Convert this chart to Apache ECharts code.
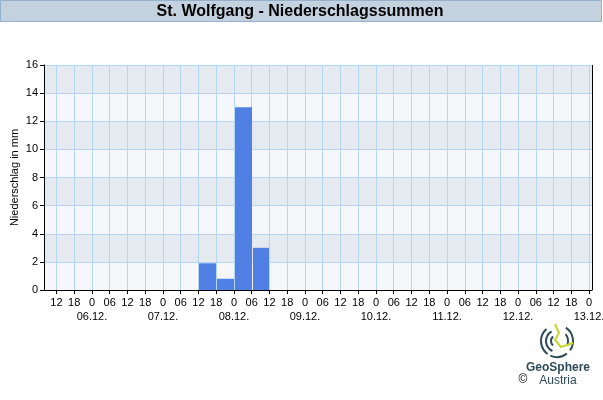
<!DOCTYPE html>
<html><head><meta charset="utf-8">
<script src="https://cdn.jsdelivr.net/npm/echarts@6/dist/echarts.min.js"></script>
<style>html,body{margin:0;padding:0;background:#fff}#c{width:603px;height:400px}</style>
</head><body><div id="c"></div>
<script>
// hours since 05.12. 00:00
const barStarts = [60, 66, 72, 78];
const barValues = [1.9, 0.8, 13.0, 3.0];
const hourTicks = [12,18,24,30,36,42,48,54,60,66,72,78,84,90,96,102,108,114,120,126,132,138,144,150,156,162,168,174,180,186,192];
const dayTicks = [24,48,72,96,120,144,168,192];
const dayLabels = ['06.12.','07.12.','08.12.','09.12.','10.12.','11.12.','12.12.','13.12.'];
const title = 'St. Wolfgang - Niederschlagssummen';
const yName = 'Niederschlag in mm';

const FONT = 'Liberation Sans, Arial, sans-serif';
const chart = echarts.init(document.getElementById('c'), null, {renderer:'canvas'});
const xMin = 7.8, xMax = 193;
function hourFmt(v){const h=((v%24)+24)%24; return h===0?'0':(h<10?'0'+h:''+h);}
const barData = barStarts.map((s,i)=>[s, s+6, barValues[i]]);
const GRIDC = '#b4d6f0';

chart.setOption({
  animation:false,
  textStyle:{fontFamily:FONT},
  graphic:[
    {type:'rect', shape:{x:0.5,y:0.5,width:601,height:21}, style:{fill:'#c4d2e0',stroke:'#93b1cc',lineWidth:1}},
    {type:'text', x:300, y:12, style:{text:title, font:'bold 16px '+FONT, fill:'#000', textAlign:'center', textVerticalAlign:'middle'}},
    {type:'line', z:100, shape:{x1:592.5, y1:65, x2:592.5, y2:290}, style:{stroke:'#000', lineWidth:1}},
    {type:'group', x:557, y:341, children:[
      {type:'arc', shape:{cx:0,cy:0,r:16,startAngle:2.2,endAngle:4.0}, style:{stroke:'#2f4b57',lineWidth:2,fill:null}},
      {type:'arc', shape:{cx:0,cy:0,r:11,startAngle:2.0,endAngle:4.2}, style:{stroke:'#2f4b57',lineWidth:2,fill:null}},
      {type:'arc', shape:{cx:0,cy:0,r:6,startAngle:2.3,endAngle:4.0}, style:{stroke:'#2f4b57',lineWidth:2,fill:null}},
      {type:'arc', shape:{cx:0,cy:0,r:16,startAngle:5.3,endAngle:6.9}, style:{stroke:'#2f4b57',lineWidth:2,fill:null}},
      {type:'arc', shape:{cx:0,cy:0,r:11,startAngle:5.6,endAngle:6.6}, style:{stroke:'#2f4b57',lineWidth:2,fill:null}},
      {type:'arc', shape:{cx:0,cy:0,r:16,startAngle:0.9,endAngle:2.0}, style:{stroke:'#2f4b57',lineWidth:2,fill:null}},
      {type:'polyline', shape:{points:[[-2,-17],[2,-8],[-2,-1],[4,6],[16,2]]}, style:{stroke:'#c5d62e',lineWidth:2,fill:null}}
    ]},
    {type:'text', x:558, y:368, style:{text:'GeoSphere', font:'bold 12px '+FONT, fill:'#2f4b57', textAlign:'center', textVerticalAlign:'middle'}},
    {type:'text', x:558, y:381, style:{text:'Austria', font:'12px '+FONT, fill:'#2f4b57', textAlign:'center', textVerticalAlign:'middle'}},
    {type:'text', x:523, y:380, style:{text:'©', font:'12px '+FONT, fill:'#000', textAlign:'center', textVerticalAlign:'middle'}}
  ],
  grid:{left:44, right:11, top:65, bottom:110, containLabel:false, outerBoundsMode:'none', show:false},
  xAxis:[
    {type:'value', min:xMin, max:xMax, position:'bottom',
     axisLine:{show:true, onZero:false, lineStyle:{color:'#000',width:1}},
     axisTick:{show:true, length:4, customValues:hourTicks, lineStyle:{color:'#000'}},
     axisLabel:{customValues:hourTicks, formatter:hourFmt, color:'#000', fontSize:11, margin:7, fontFamily:FONT},
     splitLine:{show:false}, splitArea:{show:false}},
    {type:'value', min:xMin, max:xMax, position:'bottom', offset:16,
     axisLine:{show:false}, axisTick:{show:false},
     axisLabel:{customValues:dayTicks, formatter:(v)=>dayLabels[dayTicks.indexOf(v)]||'', color:'#000', fontSize:11, margin:5, fontFamily:FONT},
     splitLine:{show:false}}
  ],
  yAxis:[
    {type:'value', min:0, max:16, interval:2, position:'left',
     name:yName, nameLocation:'middle', nameGap:24, nameRotate:90, nameMoveOverlap:false,
     nameTextStyle:{color:'#000', fontSize:11, fontFamily:FONT},
     axisLine:{show:true, onZero:false, lineStyle:{color:'#000'}},
     axisTick:{show:true, length:4, lineStyle:{color:'#000'}},
     axisLabel:{color:'#000', fontSize:11, margin:6, fontFamily:FONT},
     splitLine:{show:true, lineStyle:{color:GRIDC,width:1}},
     splitArea:{show:true, areaStyle:{color:['#f5f7fa','#e5e9f0']}}}
  ],
  series:[
    {type:'line', xAxisIndex:0, yAxisIndex:0, data:[], z:1, silent:true,
     markLine:{silent:true, symbol:['none','none'], label:{show:false}, animation:false,
       lineStyle:{color:GRIDC, width:1, type:'solid'}, emphasis:{disabled:true},
       data:hourTicks.map(v=>({xAxis:v}))}},
    {type:'custom', xAxisIndex:0, yAxisIndex:0, data:barData, z:5,
    encode:{x:[0,1], y:2},
    renderItem:function(params, api){
      const p0 = api.coord([api.value(0), api.value(2)]);
      const p1 = api.coord([api.value(1), 0]);
      return {type:'rect', shape:{x:Math.round(p0[0])+1, y:p0[1], width:Math.round(p1[0])-Math.round(p0[0])-1, height:p1[1]-p0[1]},
        style:{fill:'#5080e3'}};
    }}
  ]
});
</script></body></html>
